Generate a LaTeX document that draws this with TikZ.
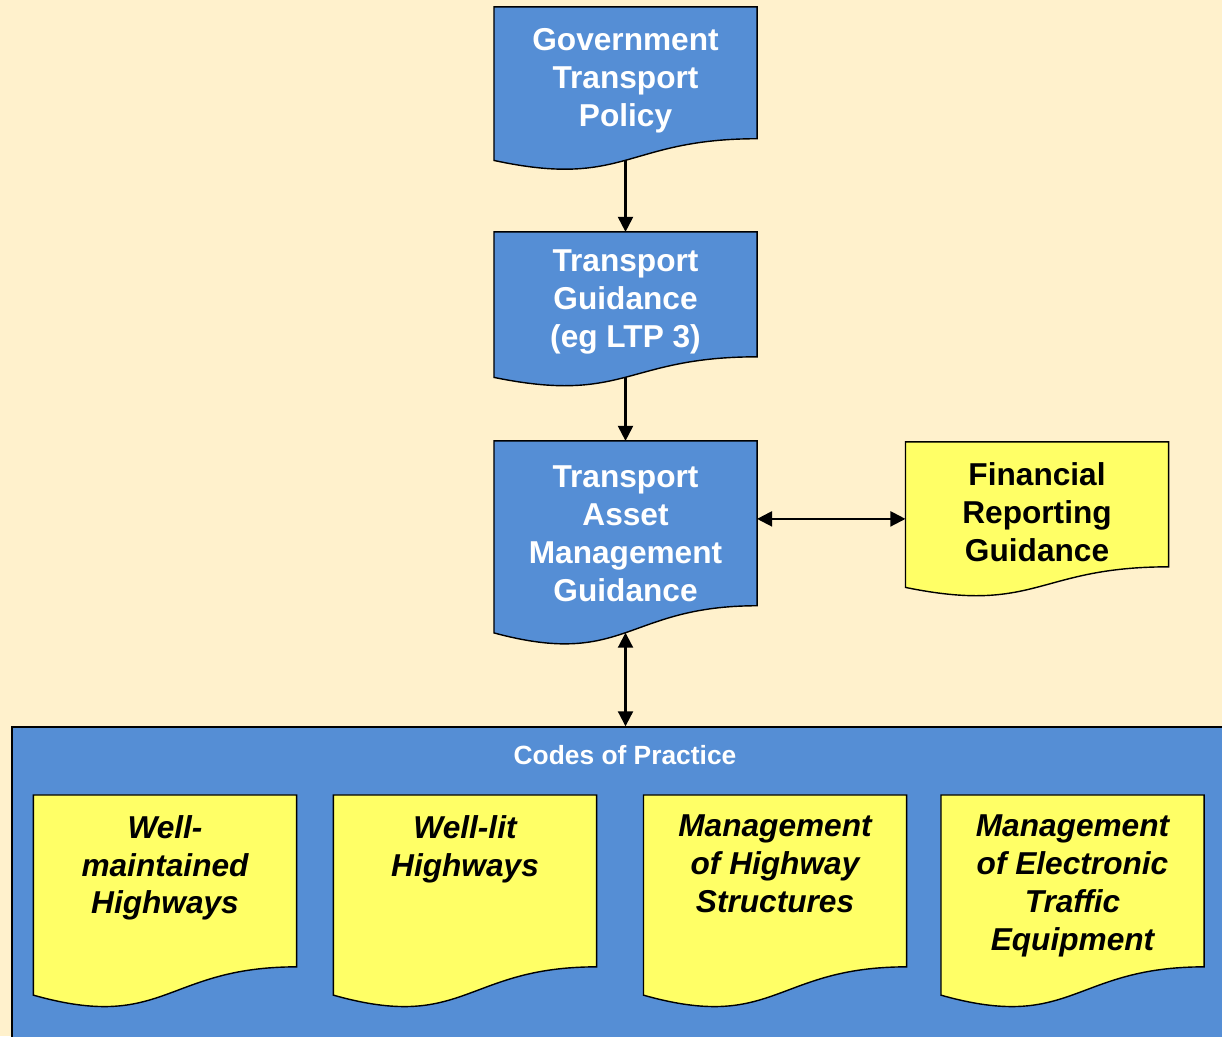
\documentclass[tikz,border=0pt]{standalone}
\usepackage{fontspec}
\setmainfont{Liberation Sans}
\usetikzlibrary{arrows.meta,backgrounds,calc}

\definecolor{creamback}{HTML}{FFF1CC}
\definecolor{blueshape}{HTML}{558ED5}
\definecolor{yellowshape}{HTML}{FFFF66}

\tikzset{
  doc/.style={shape=rectangle, minimum width=2.61cm, align=center,
    font=\fontsize{9}{10.8}\selectfont\bfseries},
  bluedoc/.style={doc, text=white},
  codedoc/.style={shape=rectangle, inner sep=0pt, minimum width=2.61cm, minimum height=1.908cm,
    font=\fontsize{9}{10.8}\selectfont\bfseries\itshape,
    execute at begin node={\begin{minipage}[t][1.525cm][t]{2.5cm}\centering},
    execute at end node={\end{minipage}}}
}

\newcommand{\docshape}[2]{%
  \filldraw [fill=#2] (#1.north west) -- (#1.north east)
    -- ($(#1.north east)!0.8911!(#1.south east)$)
    .. controls ($(#1.north)!0.8911!(#1.south)$) and ($(#1.north)!1.2306!(#1.south)$)
    .. ($(#1.north west)!1.0378!(#1.south west)$) -- cycle;
  \coordinate (#1-w) at ($(#1.north)!1.0368!(#1.south)$);
}

\begin{document}
\begin{tikzpicture}[>={Triangle[length=1.5mm,width=1.5mm]}, line width=0.6pt]
  \useasboundingbox (0,0) rectangle (12.22,10.36);

  \node (gov) at (6.255,9.551) [bluedoc, minimum height=1.458cm] {Government\\Transport\\Policy} ;
  \node (tg) at (6.255,7.34) [bluedoc, minimum height=1.381cm] {Transport\\Guidance\\(eg LTP 3)} ;
  \node (tam) at (6.255,5.026) [bluedoc, minimum height=1.829cm] {Transport\\Asset\\Management\\Guidance} ;
  \node (frg) at (10.37,5.24) [doc, minimum height=1.381cm] {Financial\\Reporting\\Guidance} ;

  \node (wmh) at (1.65,1.446) [codedoc] {Well-\\maintained\\Highways} ;
  \node (wlh) at (4.65,1.446) [codedoc] {Well-lit\\Highways} ;
  \node (mhs) at (7.75,1.446) [codedoc] {Management\\of Highway\\Structures} ;
  \node (mete) at (10.725,1.446) [codedoc] {Management\\of Electronic\\Traffic\\Equipment} ;

  \begin{scope}[on background layer]
    \fill [creamback] (0,0) rectangle (12.22,10.36);
    \node (cop) at (6.26,1.445) [draw, fill=blueshape, minimum width=12.28cm, minimum height=3.29cm] {} ;
    \docshape{gov}{blueshape}
    \docshape{tg}{blueshape}
    \docshape{tam}{blueshape}
    \docshape{frg}{yellowshape}
    \docshape{wmh}{yellowshape}
    \docshape{wlh}{yellowshape}
    \docshape{mhs}{yellowshape}
    \docshape{mete}{yellowshape}
  \end{scope}

  \node (copt) at (6.25,2.81) [text=white, font=\fontsize{7.5}{9}\selectfont\bfseries] {Codes of Practice} ;

  \draw [->] (gov-w) -- (tg);
  \draw [->] (tg-w) -- (tam);
  \draw [<->] (tam.east |- frg.183) -- (frg.183);
  \draw [<->] (tam-w) -- (tam-w |- cop.north);
\end{tikzpicture}
\end{document}
